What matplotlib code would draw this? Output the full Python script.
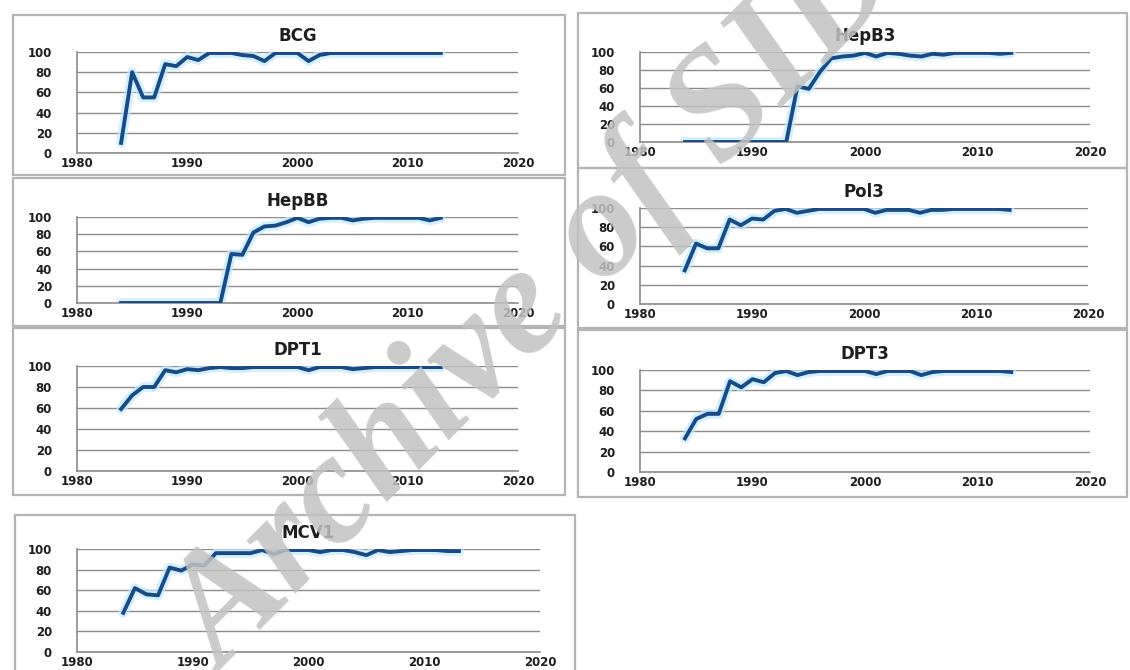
import numpy as np
import matplotlib.pyplot as plt
from matplotlib.patches import Rectangle

# Immunisation coverage (%) by year, 1984-2013
years = np.arange(1984, 2014)

bcg = [10, 80, 55, 55, 88, 86, 95, 92, 99, 99,
       99, 97, 96, 91, 99, 99, 99, 91, 97, 99,
       99, 99, 99, 99, 99, 99, 99, 99, 99, 99]
hepb3 = [0, 0, 0, 0, 0, 0, 0, 0, 0, 0,
         62, 59, 78, 93, 95, 96, 99, 95, 99, 98,
         96, 95, 98, 97, 99, 99, 99, 99, 98, 99]
hepbb = [0, 0, 0, 0, 0, 0, 0, 0, 0, 0,
         57, 56, 82, 89, 90, 94, 99, 94, 98, 99,
         99, 96, 98, 99, 99, 99, 99, 99, 96, 99]
pol3 = [35, 63, 58, 58, 88, 82, 89, 88, 97, 99,
        95, 97, 99, 99, 99, 99, 99, 95, 98, 98,
        98, 95, 98, 98, 99, 99, 99, 99, 99, 98]
dpt1 = [59, 72, 80, 80, 96, 94, 97, 96, 98, 99,
        98, 98, 99, 99, 99, 99, 99, 96, 99, 99,
        99, 97, 98, 99, 99, 99, 99, 99, 99, 99]
dpt3 = [33, 52, 57, 57, 89, 83, 91, 88, 97, 99,
        95, 98, 99, 99, 99, 99, 99, 96, 99, 99,
        99, 95, 98, 99, 99, 99, 99, 99, 99, 98]
mcv1 = [38, 62, 56, 55, 82, 79, 85, 84, 96, 96,
        96, 96, 99, 95, 99, 99, 99, 97, 99, 99,
        97, 94, 99, 97, 98, 99, 99, 99, 98, 98]

y_ticks = [0, 20, 40, 60, 80, 100]
x_ticks = [1980, 1990, 2000, 2010, 2020]

W, H = 1130, 670
fig = plt.figure(figsize=(W / 100, H / 100), dpi=100)


def rect(x0, y0, x1, y1):
    # pixel box (top-left origin) -> figure fraction
    return [x0 / W, 1 - y1 / H, (x1 - x0) / W, (y1 - y0) / H]


# title, data, plot area (px), panel border (px)
panels = [
    ("BCG", bcg, (77, 52, 518, 153), (13, 15, 565, 175)),
    ("HepB3", hepb3, (640, 52, 1090, 142), (578, 13, 1127, 168)),
    ("HepBB", hepbb, (77, 217, 518, 303), (13, 178, 565, 326)),
    ("Pol3", pol3, (640, 208, 1088, 304), (578, 168, 1127, 328)),
    ("DPT1", dpt1, (77, 366, 518, 471), (13, 328, 565, 495)),
    ("DPT3", dpt3, (640, 370, 1090, 472), (578, 330, 1127, 497)),
    ("MCV1", mcv1, (77, 549, 540, 652), (15, 515, 575, 675)),
]

for title, vals, area, box in panels:
    fig.patches.append(Rectangle((box[0] / W, 1 - box[3] / H),
                                 (box[2] - box[0]) / W, (box[3] - box[1]) / H,
                                 transform=fig.transFigure, fill=False,
                                 edgecolor="#b4b4b4", linewidth=1.6))
    ax = fig.add_axes(rect(*area))
    ax.plot(years, vals, color="#bfeaff", linewidth=7, alpha=0.7,
            solid_capstyle="round", zorder=2)
    ax.plot(years, vals, color="#1a4a86", linewidth=2.8,
            solid_joinstyle="round", zorder=3)
    ax.set_xlim(1980, 2020)
    ax.set_ylim(0, 100)
    ax.set_yticks(y_ticks)
    ax.set_xticks(x_ticks)
    ax.yaxis.grid(True, color="#8c8c8c", linewidth=1)
    ax.set_axisbelow(True)
    for s in ["top", "right"]:
        ax.spines[s].set_visible(False)
    for s in ["left", "bottom"]:
        ax.spines[s].set_color("#8c8c8c")
        ax.spines[s].set_linewidth(1.2)
    ax.tick_params(axis="y", length=0, labelsize=8.5, pad=18)
    ax.tick_params(axis="x", length=0, labelsize=8.5, pad=3)
    for lab in ax.get_xticklabels() + ax.get_yticklabels():
        lab.set_fontweight("bold")
        lab.set_color("#1e1e1e")
    ax.set_title(title, fontsize=12, fontweight="bold", pad=8, color="#1e1e1e")

# watermark
fig.text(0.475, 0.545, "Archive of SID", fontsize=112, fontweight="bold",
         fontstyle="italic", family="Liberation Serif", color="#c2c2c2",
         alpha=0.85, rotation=45, ha="center", va="center", zorder=10)

fig.savefig("out.png", dpi=100)
